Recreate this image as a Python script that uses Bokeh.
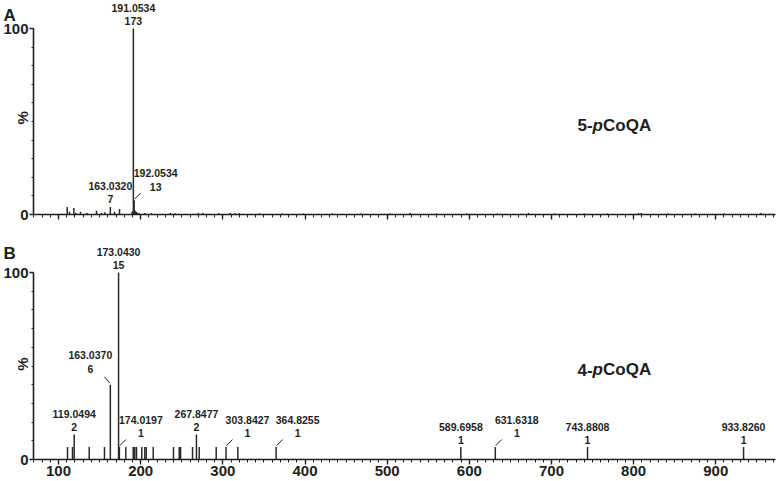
import math
from bokeh.plotting import figure
from bokeh.models import (Range1d, FixedTicker, SingleIntervalTicker, Label, LabelSet,
                          ColumnDataSource, CustomJSTickFormatter)
from bokeh.layouts import column
from bokeh.embed import file_html
from bokeh.resources import INLINE
from bokeh.core.properties import value

# ---------------- data ----------------
# Panel A (5-pCoQA): m/z and relative intensity (%)
a_mz = [110.5, 113.3, 118.6, 121.0, 126.7, 135.0, 146.2, 152.0, 156.3, 163.0320, 168.1, 174.2,
        189.4, 190.2, 191.0534, 192.0534, 192.9, 193.7, 194.6, 196.0, 198.0, 205.0, 213.0,
        236.0, 242.0, 270.0, 276.0, 295.0, 309.0, 315.0, 320.0, 345.0, 372.0, 398.0, 433.0,
        468.0, 503.0, 528.0, 560.0, 597.0, 634.0, 672.0, 704.0, 740.0, 768.0, 806.0, 809.0,
        842.0, 875.0, 910.0, 955.0]
a_pct = [4.0, 1.5, 3.5, 1.0, 1.5, 0.8, 2.0, 0.8, 1.2, 4.05, 1.5, 3.0,
         1.2, 1.8, 100.0, 7.5, 2.2, 1.6, 1.3, 1.0, 0.8, 0.8, 0.7,
         0.8, 0.7, 0.8, 0.8, 0.7, 0.8, 0.7, 0.7, 0.6, 0.6, 0.6, 0.6,
         0.6, 0.6, 0.8, 0.6, 0.6, 0.6, 0.8, 0.6, 0.6, 0.6, 0.8, 0.8,
         0.6, 0.6, 0.6, 0.8]
a_lab_mz = [191.0534, 192.0534, 163.0320]
a_lab_cnt = [173, 13, 7]
a_lab_side = ["c", "r", "c"]

# Panel B (4-pCoQA): m/z and ion counts
b_mz = [110.9, 117.0, 119.0494, 137.3, 155.9, 163.0370, 173.0430, 174.0197, 181.9, 190.9,
        192.8, 194.9, 201.3, 205.0, 206.7, 215.2, 239.9, 246.9, 248.5, 263.1, 267.8477,
        271.2, 291.9, 303.8427, 318.2, 364.8255, 589.6958, 631.6318, 743.8808, 933.8260]
b_cnt = [1, 1, 2, 1, 1, 6, 15, 1, 1, 1,
         1, 1, 1, 1, 1, 1, 1, 1, 1, 1, 2,
         1, 1, 1, 1, 1, 1, 1, 1, 1]
b_lab_mz = [173.0430, 163.0370, 119.0494, 174.0197, 267.8477, 303.8427, 364.8255,
            589.6958, 631.6318, 743.8808, 933.8260]
b_lab_cnt = [15, 6, 2, 1, 2, 1, 1, 1, 1, 1, 1]
b_lab_side = ["c", "l", "c", "r", "c", "r", "r", "c", "r", "c", "c"]

compound_a = ["5-", "p", "CoQA"]
compound_b = ["4-", "p", "CoQA"]
panel_names = ["A", "B"]
y_tick_values = [0, 100]
x_tick_interval = 100

# ---------------- layout / style ----------------
AXIS_PX = 33             # page x of the y axis
PAGE_W = 778
X0, X1 = 69.5, 972.7     # extent of the x axis (m/z)
SX = (775 - AXIS_PX) / (X1 - X0)
XS = X0 - AXIS_PX / SX
XE = X0 + (PAGE_W - AXIS_PX) / SX
FONT = "Liberation Sans"
INK = "#1e1e1e"
PEAK = "#2a2a2a"

# label offsets (screen px, positive = up)
OFFS = {
    "c": dict(dx=0.0, cnt=3.5, mz=16.5, lead=None),
    "r": dict(dx=21.5, cnt=10.0, mz=23.5, lead=((0.5, 1.5), (6.5, 7.5))),
    "l": dict(dx=-20.0, cnt=12.0, mz=25.5, lead=((-6.0, 8.0), (-0.5, 1.5))),
}


def make_panel(height, ybot, ytop, show_labels):
    p = figure(width=PAGE_W, height=height, x_range=Range1d(XS, XE), y_range=Range1d(ybot, ytop),
               output_backend="svg", toolbar_location=None,
               min_border_left=0, min_border_right=0,
               min_border_top=0, min_border_bottom=0)
    p.outline_line_color = None
    p.xgrid.visible = False
    p.ygrid.visible = False
    p.background_fill_color = "white"
    p.border_fill_color = "white"

    xa = p.xaxis[0]
    xa.fixed_location = 0
    xa.ticker = SingleIntervalTicker(interval=x_tick_interval, num_minor_ticks=10)
    xa.bounds = (X0, X1)
    xa.axis_line_width = 1.6
    xa.axis_line_color = INK
    xa.major_tick_line_color = INK
    xa.minor_tick_line_color = INK
    xa.major_tick_line_width = 1.4
    xa.major_tick_out = 5
    xa.major_tick_in = 0
    xa.minor_tick_out = 3
    xa.minor_tick_in = 0
    xa.major_label_standoff = 1
    xa.major_label_text_font = FONT
    xa.major_label_text_font_style = "bold"
    xa.major_label_text_color = INK
    if show_labels:
        xa.major_label_text_font_size = "15px"
    else:
        xa.formatter = CustomJSTickFormatter(code="return ''")
        xa.major_label_text_font_size = "1px"

    ya = p.yaxis[0]
    ya.fixed_location = X0
    ya.ticker = FixedTicker(ticks=y_tick_values, minor_ticks=list(range(0, 101, 10)))
    ya.bounds = (0, 100)
    ya.axis_line_width = 1.6
    ya.axis_line_color = INK
    ya.major_tick_line_color = INK
    ya.minor_tick_line_color = INK
    ya.major_tick_line_width = 1.4
    ya.major_tick_out = 4
    ya.major_tick_in = 0
    ya.minor_tick_out = 2
    ya.minor_tick_in = 0
    ya.major_label_standoff = 1
    ya.major_label_text_font = FONT
    ya.major_label_text_font_style = "bold"
    ya.major_label_text_font_size = "15px"
    ya.major_label_text_color = INK
    return p


def draw(p, sy, mz, pct, lab_mz, lab_cnt, lab_side, max_cnt, compound, pct_label_y):
    p.segment(x0=mz, y0=[0] * len(mz), x1=mz, y1=pct, line_color=PEAK, line_width=1.5)

    lx, ly, t1, t2, dx, dy1, dy2 = [], [], [], [], [], [], []
    sx0, sy0, sx1, sy1 = [], [], [], []
    for m, c, s in zip(lab_mz, lab_cnt, lab_side):
        top = c / max_cnt * 100.0
        o = OFFS[s]
        lx.append(m)
        ly.append(top)
        t1.append("%.4f" % m)
        t2.append(str(c))
        dx.append(o["dx"])
        dy1.append(o["mz"])
        dy2.append(o["cnt"])
        if o["lead"]:
            (ax, ay), (bx, by) = o["lead"]
            sx0.append(m + ax / SX)
            sy0.append(top + ay / sy)
            sx1.append(m + bx / SX)
            sy1.append(top + by / sy)
    src = ColumnDataSource(dict(x=lx, y=ly, t1=t1, t2=t2, dx=dx, dy1=dy1, dy2=dy2))
    for tcol, dycol in (("t1", "dy1"), ("t2", "dy2")):
        p.add_layout(LabelSet(x="x", y="y", text=tcol, source=src, x_offset="dx", y_offset=dycol,
                              text_align="center", text_baseline="alphabetic",
                              text_font=value(FONT), text_font_style="bold",
                              text_font_size="10.5px", text_color=INK))
    if sx0:
        p.segment(x0=sx0, y0=sy0, x1=sx1, y1=sy1, line_color=INK, line_width=1)

    # compound name with italic p
    fs = 17
    w_prefix = 0.889 * fs
    w_p = 0.611 * fs
    x_start = 577 - AXIS_PX
    xoff = [x_start, x_start + w_prefix, x_start + w_prefix + w_p]
    styles = ["bold", "bold italic", "bold"]
    for txt, xo, st in zip(compound, xoff, styles):
        p.add_layout(Label(x=X0, y=48, x_offset=xo, text=txt, text_align="left",
                           text_baseline="middle", text_font=FONT, text_font_style=st,
                           text_font_size="%dpx" % fs, text_color=INK))
    # y-axis title
    p.add_layout(Label(x=X0, y=pct_label_y, x_offset=-11, text="%", angle=math.pi / 2,
                       text_align="center", text_baseline="middle", text_font=FONT,
                       text_font_style="bold", text_font_size="15px", text_color=INK))
    return p


# panel A : page 0..228, y=100 at page 28, y=0 at page 214
A_SY = (214 - 28) / 100.0
A_TOP = 100 + 28 / A_SY
A_BOT = -(228 - 214) / A_SY
p1 = make_panel(height=228, ybot=A_BOT, ytop=A_TOP, show_labels=False)
draw(p1, A_SY, a_mz, a_pct, a_lab_mz, a_lab_cnt, a_lab_side, max(a_lab_cnt), compound_a, 52)
p1.add_layout(Label(x=X0, y=A_TOP, x_offset=3 - AXIS_PX, y_offset=-5,
                    text=panel_names[0], text_align="left", text_baseline="top", text_font=FONT,
                    text_font_style="bold", text_font_size="17px", text_color=INK))

# panel B : page 228..481, y=100 at page 272, y=0 at page 459
B_SY = (459 - 272) / 100.0
B_TOP = 100 + (272 - 228) / B_SY
B_BOT = -(481 - 459) / B_SY
b_pct = [c / max(b_cnt) * 100.0 for c in b_cnt]
p2 = make_panel(height=253, ybot=B_BOT, ytop=B_TOP, show_labels=True)
draw(p2, B_SY, b_mz, b_pct, b_lab_mz, b_lab_cnt, b_lab_side, max(b_cnt), compound_b, 51)
p2.add_layout(Label(x=X0, y=B_TOP, x_offset=3 - AXIS_PX, y_offset=-15,
                    text=panel_names[1], text_align="left", text_baseline="top", text_font=FONT,
                    text_font_style="bold", text_font_size="17px", text_color=INK))

layout = column(p1, p2)

open("out.html", "w").write(file_html(layout, INLINE))
